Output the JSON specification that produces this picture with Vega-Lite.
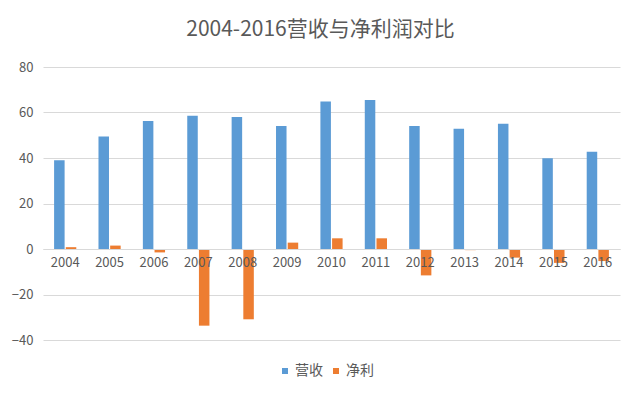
{
  "$schema": "https://vega.github.io/schema/vega-lite/v6.json",
  "width": 577,
  "height": 273,
  "autosize": {"type": "none"},
  "padding": {"left": 43, "top": 67, "right": 20, "bottom": 59},
  "background": "white",
  "title": {
    "text": "2004-2016营收与净利润对比",
    "font": "Noto Sans CJK SC",
    "fontSize": 21,
    "fontWeight": "normal",
    "color": "#595959",
    "anchor": "middle",
    "dx": -11,
    "offset": 21
  },
  "data": {
    "values": [
      {"year": "2004", "type": "营收", "value": 39.0},
      {"year": "2004", "type": "净利", "value": 0.8},
      {"year": "2005", "type": "营收", "value": 49.5},
      {"year": "2005", "type": "净利", "value": 1.5},
      {"year": "2006", "type": "营收", "value": 56.3},
      {"year": "2006", "type": "净利", "value": -1.5},
      {"year": "2007", "type": "营收", "value": 58.6},
      {"year": "2007", "type": "净利", "value": -33.7},
      {"year": "2008", "type": "营收", "value": 58.0},
      {"year": "2008", "type": "净利", "value": -30.9},
      {"year": "2009", "type": "营收", "value": 54.1},
      {"year": "2009", "type": "净利", "value": 2.8},
      {"year": "2010", "type": "营收", "value": 64.8},
      {"year": "2010", "type": "净利", "value": 4.7},
      {"year": "2011", "type": "营收", "value": 65.5},
      {"year": "2011", "type": "净利", "value": 4.7},
      {"year": "2012", "type": "营收", "value": 54.1},
      {"year": "2012", "type": "净利", "value": -11.6},
      {"year": "2013", "type": "营收", "value": 52.9},
      {"year": "2013", "type": "净利", "value": -0.5},
      {"year": "2014", "type": "营收", "value": 55.1},
      {"year": "2014", "type": "净利", "value": -3.8},
      {"year": "2015", "type": "营收", "value": 39.9},
      {"year": "2015", "type": "净利", "value": -6.1},
      {"year": "2016", "type": "营收", "value": 42.8},
      {"year": "2016", "type": "净利", "value": -5.3}
    ]
  },
  "mark": {"type": "bar"},
  "encoding": {
    "x": {
      "field": "year",
      "type": "nominal",
      "scale": {"paddingInner": 0.5, "paddingOuter": 0.25},
      "axis": {
        "title": null,
        "labelAngle": 0,
        "offset": -91,
        "ticks": false,
        "domainColor": "#D9D9D9",
        "labelPadding": 7,
        "labelFont": "Noto Sans CJK SC",
        "labelFontSize": 13,
        "labelColor": "#595959",
        "zindex": 1
      }
    },
    "xOffset": {
      "field": "type",
      "type": "nominal",
      "sort": ["营收", "净利"],
      "scale": {"paddingInner": 0.1}
    },
    "y": {
      "field": "value",
      "type": "quantitative",
      "scale": {"domain": [-40, 80], "nice": false},
      "axis": {
        "title": null,
        "values": [-40, -20, 0, 20, 40, 60, 80],
        "domain": false,
        "ticks": false,
        "gridColor": "#D9D9D9",
        "labelPadding": 10,
        "labelFont": "Noto Sans CJK SC",
        "labelFontSize": 13,
        "labelColor": "#595959"
      }
    },
    "color": {
      "field": "type",
      "type": "nominal",
      "sort": ["营收", "净利"],
      "scale": {"domain": ["营收", "净利"], "range": ["#5B9BD5", "#ED7D31"]},
      "legend": {
        "title": null,
        "orient": "none",
        "legendX": 235,
        "legendY": 297,
        "direction": "horizontal",
        "symbolType": "square",
        "symbolSize": 36,
        "labelFont": "Noto Sans CJK SC",
        "labelFontSize": 14,
        "labelColor": "#595959",
        "columnPadding": 6,
        "labelOffset": 3
      }
    }
  },
  "config": {
    "view": {"stroke": null}
  }
}
